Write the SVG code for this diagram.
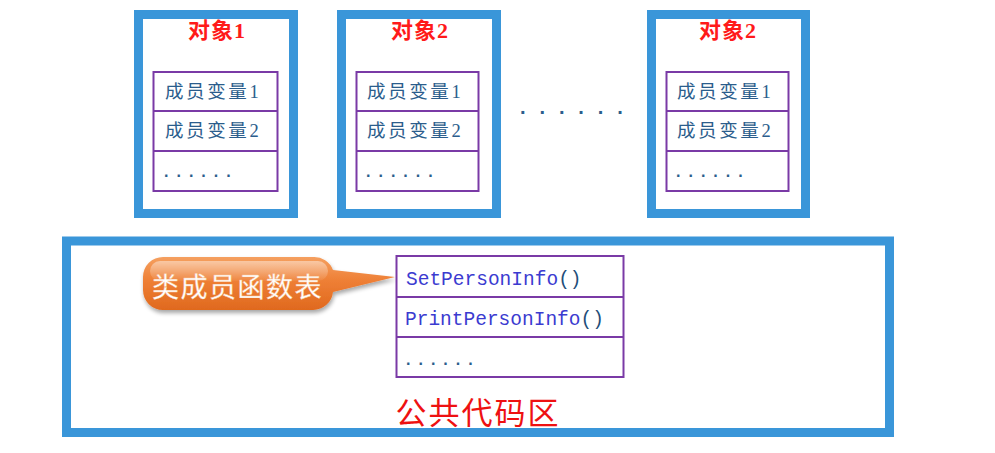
<svg xmlns="http://www.w3.org/2000/svg" width="995" height="453" viewBox="0 0 995 453">
<style>
.obj{fill:#fff;stroke:#3a96d9;stroke-width:9}
.tbl{fill:#fff;stroke:#7a3aa6;stroke-width:2}
.div{stroke:#7a3aa6;stroke-width:2}
.title{font-family:"Liberation Serif","Noto Sans CJK SC",serif;font-size:22px;font-weight:bold;fill:#ff1a1a;text-anchor:middle;letter-spacing:1px}
.mem{font-family:"Liberation Serif","Noto Sans CJK SC",serif;font-size:18.5px;fill:#2b5d8c;letter-spacing:2.6px}
.dots{font-family:"Liberation Sans",sans-serif;font-size:16px;font-weight:bold;fill:#2b5d8c;letter-spacing:8px}
.fn{font-family:"Liberation Mono",monospace;font-size:19.5px;fill:#3b3bd0}
.par{fill:#1f4e79}
</style>
<defs>
<linearGradient id="og" x1="0" y1="0" x2="0" y2="1">
<stop offset="0" stop-color="#f5a060"/>
<stop offset="0.45" stop-color="#ee7f35"/>
<stop offset="1" stop-color="#e0691e"/>
</linearGradient>
<linearGradient id="hl" x1="0" y1="0" x2="0" y2="1">
<stop offset="0" stop-color="#fff" stop-opacity="0.45"/>
<stop offset="1" stop-color="#fff" stop-opacity="0.05"/>
</linearGradient>
<filter id="sh" x="-10%" y="-20%" width="130%" height="160%">
<feGaussianBlur in="SourceAlpha" stdDeviation="2"/>
<feOffset dx="1" dy="3" result="b"/>
<feComponentTransfer><feFuncA type="linear" slope="0.35"/></feComponentTransfer>
<feMerge><feMergeNode/><feMergeNode in="SourceGraphic"/></feMerge>
</filter>
</defs>
<rect width="995" height="453" fill="#fff"/>

<g id="object1">
<rect class="obj" x="138.5" y="14.5" width="155" height="199"/>
<text class="title" x="217" y="38">对象1</text>
<rect class="tbl" x="153.5" y="72" width="124" height="119"/>
<line class="div" x1="153.5" y1="111" x2="277.5" y2="111"/>
<line class="div" x1="153.5" y1="151" x2="277.5" y2="151"/>
<text class="mem" x="165" y="98">成员变量1</text>
<text class="mem" x="165" y="137">成员变量2</text>
<text class="dots" x="164" y="177">......</text>
</g>

<g id="object2">
<rect class="obj" x="341.5" y="14.5" width="155" height="199"/>
<text class="title" x="420" y="38">对象2</text>
<rect class="tbl" x="356.5" y="72" width="122" height="119"/>
<line class="div" x1="356.5" y1="111" x2="478.5" y2="111"/>
<line class="div" x1="356.5" y1="151" x2="478.5" y2="151"/>
<text class="mem" x="367" y="98">成员变量1</text>
<text class="mem" x="367" y="137">成员变量2</text>
<text class="dots" x="366" y="177">......</text>
</g>

<g id="ellipsis">
<text x="520" y="114" font-family="Liberation Sans,sans-serif" font-size="20" font-weight="bold" fill="#2b5d8c" letter-spacing="13.9">......</text>
</g>

<g id="object3">
<rect class="obj" x="651.5" y="14.5" width="154" height="199"/>
<text class="title" x="728" y="38">对象2</text>
<rect class="tbl" x="666.5" y="72" width="122" height="119"/>
<line class="div" x1="666.5" y1="111" x2="788.5" y2="111"/>
<line class="div" x1="666.5" y1="151" x2="788.5" y2="151"/>
<text class="mem" x="677" y="98">成员变量1</text>
<text class="mem" x="677" y="137">成员变量2</text>
<text class="dots" x="676" y="177">......</text>
</g>

<g id="common-code">
<rect class="obj" x="66.5" y="241" width="823" height="191.5"/>
<text x="478" y="424" font-family="Liberation Serif,'Noto Sans CJK SC',serif" font-size="31" fill="#ee1111" text-anchor="middle" letter-spacing="2">公共代码区</text>
</g>

<g id="function-table">
<rect class="tbl" x="396.5" y="256" width="227" height="121"/>
<line class="div" x1="396.5" y1="297" x2="623.5" y2="297"/>
<line class="div" x1="396.5" y1="337" x2="623.5" y2="337"/>
<text class="fn" x="406" y="285">SetPersonInfo<tspan class="par">()</tspan></text>
<text class="fn" x="405" y="325">PrintPersonInfo<tspan class="par">()</tspan></text>
<text class="dots" x="406" y="365">......</text>
</g>

<g id="callout">
<g filter="url(#sh)">
<path d="M163,257 H313 A20,20 0 0 1 333,270 L395,277 L333,292 A20,20 0 0 1 313,310 H163 A20,20 0 0 1 143,290 V277 A20,20 0 0 1 163,257 Z" fill="url(#og)"/>
</g>
<rect x="150" y="261" width="178" height="20" rx="10" fill="url(#hl)"/>
<text x="152" y="297" font-family="'Noto Sans CJK SC',sans-serif" font-size="27" fill="#fff" letter-spacing="1.5" stroke="#f6c9a3" stroke-width="0.4">类成员函数表</text>
</g>
</svg>
